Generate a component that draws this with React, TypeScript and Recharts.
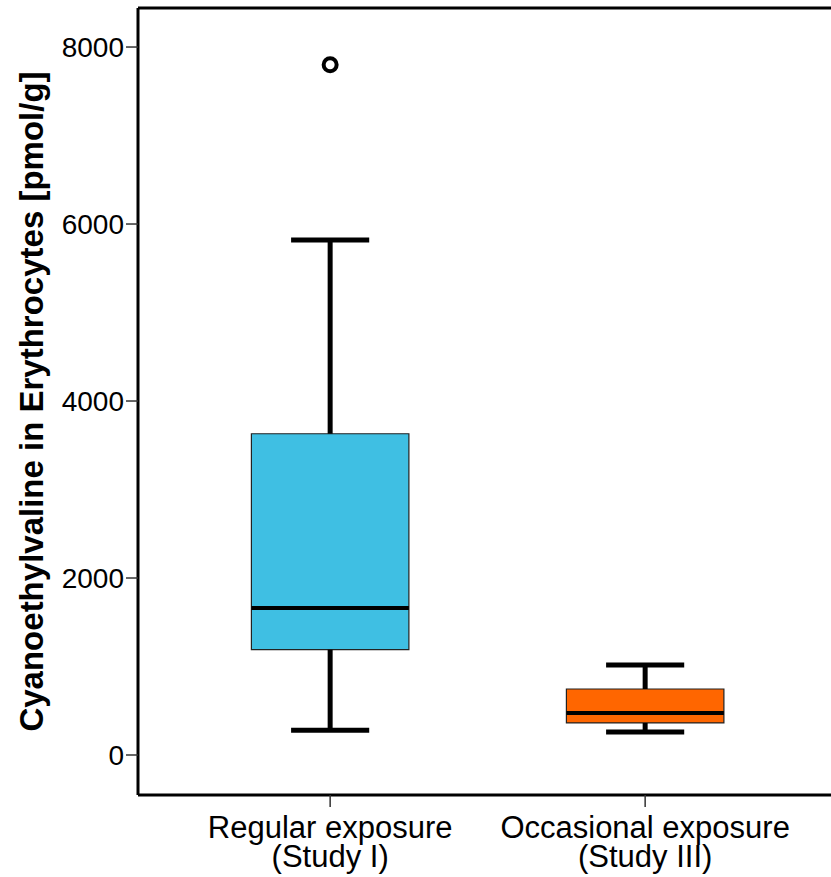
import React from 'react';
import {
  ComposedChart,
  XAxis,
  YAxis,
  ReferenceArea,
  ReferenceLine,
  Scatter,
  Label,
} from 'recharts';

// ---- data ----
const categoryLabels = ['Regular exposure', 'Occasional exposure'];
const categorySubLabels = ['(Study I)', '(Study III)'];
const positions = [1, 2];
const whiskerLow = [280, 260];
const q1 = [1190, 362];
const median = [1660, 475];
const q3 = [3630, 746];
const whiskerHigh = [5820, 1017];
const boxColors = ['#3FBFE3', '#FF6600'];
const outlierGroups = [1];
const outlierValues = [7800];
const yTicks = [0, 2000, 4000, 6000, 8000];
const yTitle = 'Cyanoethylvaline in Erythrocytes [pmol/g]';

const outlierData = outlierGroups.map((g, i) => ({ x: g, y: outlierValues[i] }));

const X_DOMAIN: [number, number] = [0.39, 2.59];
const Y_DOMAIN: [number, number] = [-452, 8441];
const BOX_HALF = 0.25;
const CAP_HALF = 0.124;

const FONT = '"Liberation Sans", Arial, sans-serif';

const XTick = (props: any) => {
  const { x, y, payload } = props;
  const idx = positions.indexOf(payload.value);
  if (idx < 0) return null;
  return (
    <text x={x} y={y} textAnchor="middle" fill="#000" fontSize={31} fontFamily={FONT}>
      <tspan x={x} dy={29}>{categoryLabels[idx]}</tspan>
      <tspan x={x} dy={29}>{categorySubLabels[idx]}</tspan>
    </text>
  );
};

const YTitle = (props: any) => {
  const { viewBox } = props;
  const cy = viewBox.y + viewBox.height / 2;
  const cx = 43;
  return (
    <text
      x={cx}
      y={cy}
      textAnchor="middle"
      fontSize={33}
      fontWeight="bold"
      fontFamily={FONT}
      fill="#000"
      transform={`rotate(-90, ${cx}, ${cy})`}
    >
      {yTitle}
    </text>
  );
};

const OutlierShape = (props: any) => {
  const { cx, cy } = props;
  return <circle cx={cx} cy={cy} r={6.5} fill="#fff" stroke="#000" strokeWidth={4} />;
};

export default function App() {
  return (
    <div style={{ position: 'absolute', left: 0, top: 0, background: '#fff' }}>
      <ComposedChart
        width={831}
        height={877}
        margin={{ top: 8, right: 0, bottom: 0, left: 0 }}
        data={outlierData}
      >
        <XAxis
          type="number"
          dataKey="x"
          domain={X_DOMAIN}
          allowDataOverflow
          ticks={positions}
          interval={0}
          height={82}
          tickSize={12}
          tickMargin={2}
          tick={<XTick />}
          axisLine={{ stroke: '#000', strokeWidth: 3 }}
          tickLine={{ stroke: '#333', strokeWidth: 1.5 }}
        />
        <YAxis
          type="number"
          dataKey="y"
          domain={Y_DOMAIN}
          allowDataOverflow
          ticks={yTicks}
          interval={0}
          width={138}
          tickSize={12}
          tickMargin={2}
          tick={{ fill: '#000', fontSize: 28, fontFamily: FONT }}
          axisLine={{ stroke: '#000', strokeWidth: 3 }}
          tickLine={{ stroke: '#333', strokeWidth: 1.5 }}
        >
          <Label content={<YTitle />} />
        </YAxis>
        <ReferenceLine y={Y_DOMAIN[1]} stroke="#000" strokeWidth={3} ifOverflow="visible" />
        {positions.map((p, i) => (
          <ReferenceArea
            key={`box-${i}`}
            x1={p - BOX_HALF}
            x2={p + BOX_HALF}
            y1={q1[i]}
            y2={q3[i]}
            fill={boxColors[i]}
            fillOpacity={1}
            stroke="#222"
            strokeWidth={1.2}
            ifOverflow="visible"
          />
        ))}
        {positions.map((p, i) => (
          <ReferenceLine
            key={`wl-${i}`}
            segment={[{ x: p, y: whiskerLow[i] }, { x: p, y: q1[i] }]}
            stroke="#000"
            strokeWidth={5}
            ifOverflow="visible"
          />
        ))}
        {positions.map((p, i) => (
          <ReferenceLine
            key={`wh-${i}`}
            segment={[{ x: p, y: q3[i] }, { x: p, y: whiskerHigh[i] }]}
            stroke="#000"
            strokeWidth={5}
            ifOverflow="visible"
          />
        ))}
        {positions.map((p, i) => (
          <ReferenceLine
            key={`cl-${i}`}
            segment={[{ x: p - CAP_HALF, y: whiskerLow[i] }, { x: p + CAP_HALF, y: whiskerLow[i] }]}
            stroke="#000"
            strokeWidth={5}
            ifOverflow="visible"
          />
        ))}
        {positions.map((p, i) => (
          <ReferenceLine
            key={`ch-${i}`}
            segment={[{ x: p - CAP_HALF, y: whiskerHigh[i] }, { x: p + CAP_HALF, y: whiskerHigh[i] }]}
            stroke="#000"
            strokeWidth={5}
            ifOverflow="visible"
          />
        ))}
        {positions.map((p, i) => (
          <ReferenceLine
            key={`md-${i}`}
            segment={[{ x: p - BOX_HALF, y: median[i] }, { x: p + BOX_HALF, y: median[i] }]}
            stroke="#000"
            strokeWidth={4}
            ifOverflow="visible"
          />
        ))}
        <Scatter
          data={outlierData}
          dataKey="y"
          shape={<OutlierShape />}
          isAnimationActive={false}
        />
      </ComposedChart>
    </div>
  );
}
